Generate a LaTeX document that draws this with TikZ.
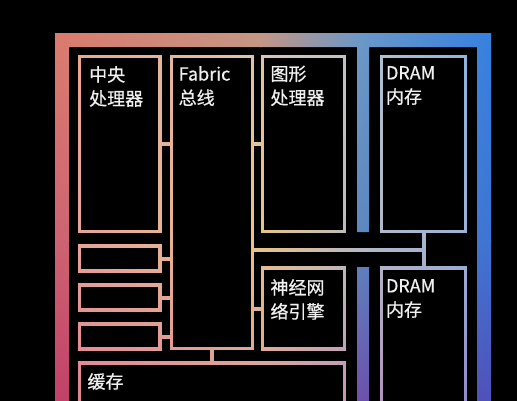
\documentclass[tikz,border=0pt]{standalone}
\usepackage{fontspec}
\setmainfont{Noto Sans CJK SC}[FakeBold=0.6]
\usetikzlibrary{positioning,shadings}

% package frame colours (columns x = 0, 260, 363, 517; rows y = 0, 240, 400)
\definecolor{f00}{HTML}{E27868}
\definecolor{f10}{HTML}{C89C84}
\definecolor{f20}{HTML}{6C9ACA}
\definecolor{f30}{HTML}{2A7EE6}
\definecolor{f01}{HTML}{D65C6A}
\definecolor{f11}{HTML}{B07A8A}
\definecolor{f21}{HTML}{5A88C0}
\definecolor{f31}{HTML}{3870D8}
\definecolor{f02}{HTML}{CC385C}
\definecolor{f12}{HTML}{9C4A8E}
\definecolor{f22}{HTML}{6E4AAA}
\definecolor{f32}{HTML}{4A4EB8}
% block outline tint, same grid
\definecolor{p00}{HTML}{EAA68E}
\definecolor{p10}{HTML}{DEC4AE}
\definecolor{p20}{HTML}{B6C2D0}
\definecolor{p30}{HTML}{88B2E2}
\definecolor{p01}{HTML}{E6A29A}
\definecolor{p11}{HTML}{E8C486}
\definecolor{p21}{HTML}{B4BAC6}
\definecolor{p31}{HTML}{9AB0D6}
\definecolor{p02}{HTML}{E07E90}
\definecolor{p12}{HTML}{D898A6}
\definecolor{p22}{HTML}{BE90B8}
\definecolor{p32}{HTML}{8A86CC}
\definecolor{labelwhite}{HTML}{F0F0F0}

\newcommand{\gradcell}[8]{%
  \shade[upper left=#5, upper right=#6, lower left=#7, lower right=#8] (#1,#2) rectangle (#3,#4);}

\begin{document}
\begin{tikzpicture}[x=1pt, y=-1pt,
    unit/.style={rectangle, draw=white, line width=3.5pt, inner sep=0pt, outer sep=0pt, anchor=north west},
    wire/.style={draw=white, line width=4pt},
    caption/.style={anchor=north west, inner sep=0pt, text=labelwhite, align=left, font=\fontsize{18}{24}\selectfont},
    node distance=14pt,
  ]
  \useasboundingbox (0,0) rectangle (517,400);
  \fill[black] (-10,-10) rectangle (527,420);

  % blocks
  \node[unit, minimum width=80.5pt, minimum height=175pt] (cpu)    at (79.5,56.5)  {};
  \node[unit, minimum width=81pt,   minimum height=292pt] (fabric) at (171.5,56.5) {};
  \node[unit, minimum width=82pt,   minimum height=175pt] (gpu)    at (262.5,56.5) {};
  \node[unit, minimum width=84pt,   minimum height=175pt] (dram1)  at (381.5,56.5) {};
  \node[unit, minimum width=80.5pt, minimum height=25pt]  (sram1)  at (79.5,246)   {};
  \node[unit, minimum width=80.5pt, minimum height=25pt, below=of sram1] (sram2) {};
  \node[unit, minimum width=80.5pt, minimum height=25pt, below=of sram2] (sram3) {};
  \node[unit, minimum width=82pt,   minimum height=81pt]  (npu)    at (262.5,268)  {};
  \node[unit, minimum width=84pt,   minimum height=200pt] (dram2)  at (381.5,268)  {};
  \node[unit, minimum width=265pt,  minimum height=100pt] (cache)  at (79.5,363)   {};

  % links
  \coordinate (bus) at (423.5,249.5);
  \draw[wire] (cpu.east) -- (cpu.east -| fabric.west);
  \draw[wire] (cpu.east -| fabric.east) -- (cpu.east -| gpu.west);
  \foreach \s in {sram1,sram2,sram3}
    \draw[wire] (\s.east) -- (\s.east -| fabric.west);
  \draw[wire] (npu.west -| fabric.east) -- (npu.west);
  \draw[wire] (fabric.south) -- (fabric.south |- cache.north);
  \draw[wire] (fabric.east |- bus) -- (bus);
  \draw[wire] (dram1.south) -- (dram2.north);

  % tint the white outlines
  \begin{scope}[blend mode=multiply]
    \begin{scope}[transparency group]
      \gradcell{69}{47}{261}{241}{p00}{p10}{p01}{p11}
      \gradcell{260}{47}{364}{241}{p10}{p20}{p11}{p21}
      \gradcell{363}{47}{477}{241}{p20}{p30}{p21}{p31}
      \gradcell{69}{240}{261}{420}{p01}{p11}{p02}{p12}
      \gradcell{260}{240}{364}{420}{p11}{p21}{p12}{p22}
      \gradcell{363}{240}{477}{420}{p21}{p31}{p22}{p32}
    \end{scope}
  \end{scope}

  % package frame
  \begin{scope}
    \clip (55,33) rectangle (491,47) (55,33) rectangle (69,420)
          (477,33) rectangle (491,420) (357,33) rectangle (369,232)
          (357,267) rectangle (369,420);
    \gradcell{0}{0}{261}{241}{f00}{f10}{f01}{f11}
    \gradcell{260}{0}{364}{241}{f10}{f20}{f11}{f21}
    \gradcell{363}{0}{517}{241}{f20}{f30}{f21}{f31}
    \gradcell{0}{240}{261}{420}{f01}{f11}{f02}{f12}
    \gradcell{260}{240}{364}{420}{f11}{f21}{f12}{f22}
    \gradcell{363}{240}{517}{420}{f21}{f31}{f22}{f32}
  \end{scope}

  % captions
  \node[caption] (cpu-t)    at ([shift={(9.5,9.5)}]cpu.north west)    {中央\\处理器};
  \node[caption] (fabric-t) at ([shift={(7,9.5)}]fabric.north west)   {Fabric\\总线};
  \node[caption] (gpu-t)    at ([shift={(7.8,9)}]gpu.north west)      {图形\\处理器};
  \node[caption] (dram1-t)  at ([shift={(4.3,9.5)}]dram1.north west)  {DRAM\\内存};
  \node[caption] (npu-t)    at ([shift={(7.8,11)}]npu.north west)     {神经网\\络引擎};
  \node[caption] (dram2-t)  at ([shift={(4.3,11)}]dram2.north west)   {DRAM\\内存};
  \node[caption] (cache-t)  at ([shift={(7.8,10)}]cache.north west)   {缓存};
\end{tikzpicture}
\end{document}
